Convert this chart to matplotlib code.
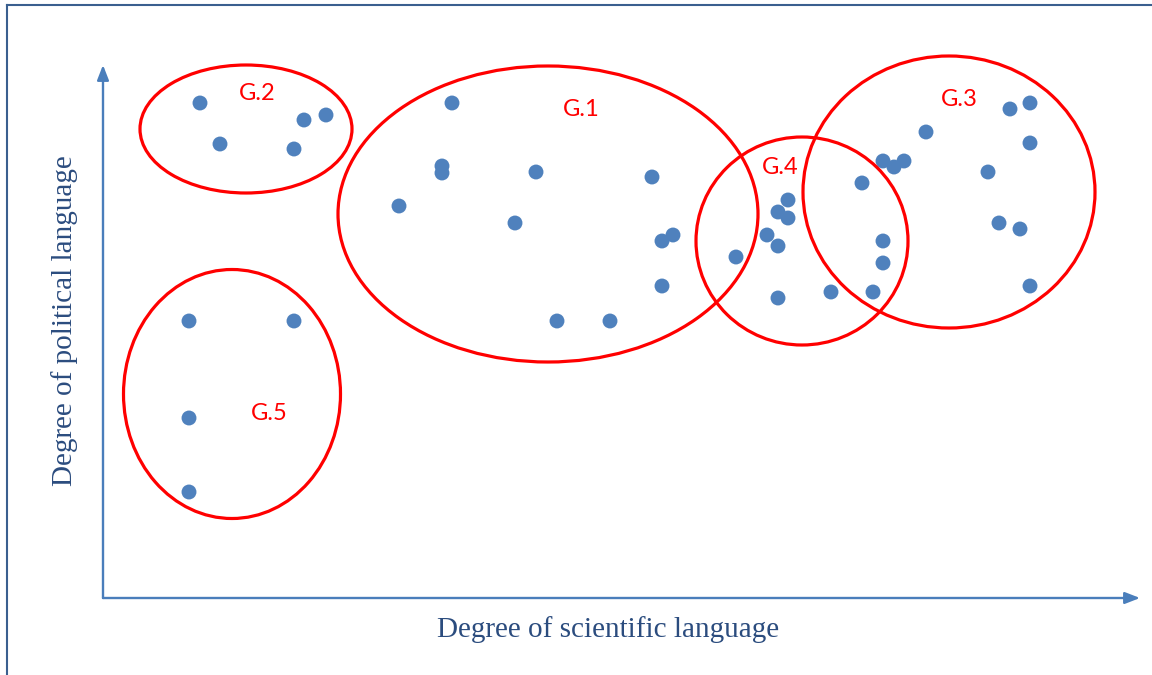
import matplotlib.pyplot as plt
from matplotlib.patches import Ellipse

# point positions (origin at the corner of the two axis arrows)
g1_x = [349, 339, 339, 433, 549, 296, 412, 570, 559, 559, 454, 507]
g1_y = [495, 432, 425, 426, 421, 392, 375, 363, 357, 312, 277, 277]
g2_x = [97, 117, 201, 223, 191]
g2_y = [495, 454, 478, 483, 449]
g3_x = [780, 791, 801, 823, 907, 927, 927, 885, 896, 917, 927]
g3_y = [437, 431, 437, 466, 489, 495, 455, 426, 375, 369, 312]
g4_x = [633, 664, 675, 675, 685, 685, 675, 728, 770, 780, 780, 759]
g4_y = [341, 363, 352, 386, 398, 380, 300, 306, 306, 357, 335, 415]
g5_x = [86, 191, 86, 86]
g5_y = [277, 277, 180, 106]

# group outlines: centre x, centre y, width, height
groups = ['G.1', 'G.2', 'G.3', 'G.4', 'G.5']
ell_cx = [445, 143, 846, 699, 129]
ell_cy = [384, 469, 406, 357, 204]
ell_w = [420, 212, 292, 212, 217]
ell_h = [296, 128, 272, 208, 249]
label_x = [478, 154, 856, 677, 166]
label_y = [488, 505, 498, 430, 185]

blue = '#4F81BD'
axis_blue = '#4A7EBB'
text_blue = '#2B4C7E'

fig = plt.figure(figsize=(11.52, 6.75), dpi=100)
ax = fig.add_axes([0, 0, 1, 1])
ax.set_xlim(-103, 1049)
ax.set_ylim(-77, 598)
ax.axis('off')

# frame (left and top edges visible)
ax.plot([-96, -96], [-80, 593], color='#3A5F8F', lw=1.5)
ax.plot([-96, 1060], [593, 593], color='#3A5F8F', lw=1.5)

# axis arrows
arrow = dict(arrowstyle='-|>,head_length=0.9,head_width=0.35', color=axis_blue,
             lw=1.7, shrinkA=0, shrinkB=0)
ax.annotate('', xy=(0, 533), xytext=(0, 0), arrowprops=arrow)
ax.annotate('', xy=(1037, 0), xytext=(0, 0), arrowprops=arrow)

for xs, ys in [(g1_x, g1_y), (g2_x, g2_y), (g3_x, g3_y), (g4_x, g4_y), (g5_x, g5_y)]:
    ax.scatter(xs, ys, s=115, color=blue, edgecolors='none', zorder=3)

for i in range(len(groups)):
    ax.add_patch(Ellipse((ell_cx[i], ell_cy[i]), ell_w[i], ell_h[i],
                         fill=False, edgecolor='#FF0000', lw=2.3, zorder=4))
    ax.text(label_x[i], label_y[i], groups[i], color='#FF0000', fontsize=17,
            family='Lato', ha='center', va='center')

ax.text(505, -32, 'Degree of scientific language', color=text_blue,
        fontsize=21, family='Liberation Serif', ha='center', va='center')
ax.text(-38, 277, 'Degree of political language', color=text_blue,
        fontsize=21, family='Liberation Serif', ha='center', va='center',
        rotation=90)

fig.savefig('out.png', dpi=100)
